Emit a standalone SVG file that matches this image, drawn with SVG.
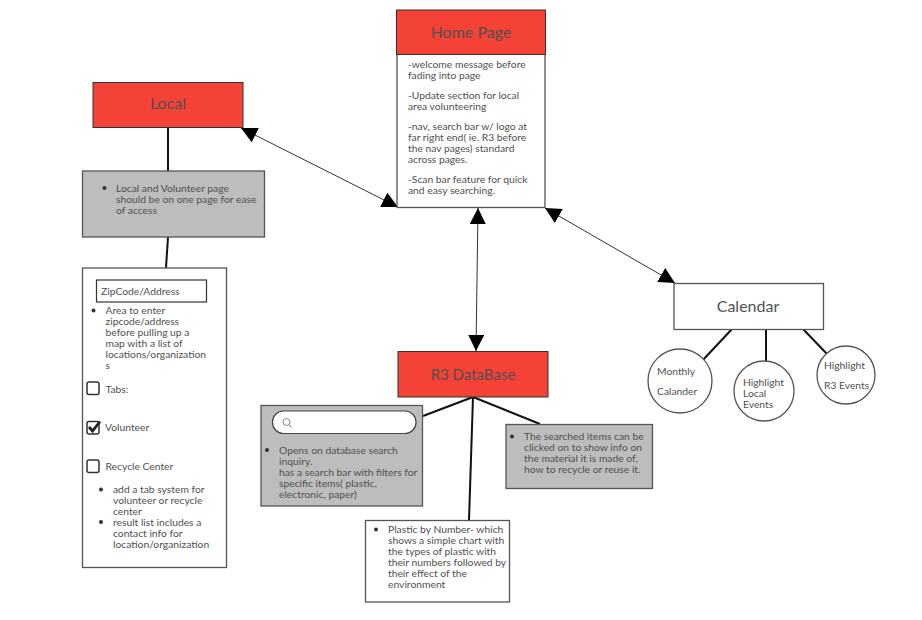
<svg xmlns="http://www.w3.org/2000/svg" width="922" height="620" viewBox="0 0 922 620">
<style>
text{font-family:Lato,"Open Sans",sans-serif;font-size:10.300px;fill:#505050}
.t{font-size:16px;text-anchor:middle}
.red{fill:#f44336;stroke:#333;stroke-width:1}
.wh{fill:#fff;stroke:#555;stroke-width:1.3}
.gr{fill:#bdbdbd;stroke:#555;stroke-width:1.3}
.c{fill:none;stroke:#111;stroke-width:2}
.a{fill:none;stroke:#333;stroke-width:1;marker-start:url(#ah);marker-end:url(#ah)}
.b{fill:#333;stroke:none}
.k{fill:#fff;stroke:#333;stroke-width:1.500}
</style>
<defs>
<marker id="ah" viewBox="0 0 16 16" refX="16" refY="8" markerWidth="16" markerHeight="16" markerUnits="userSpaceOnUse" orient="auto-start-reverse"><path d="M0 0L16 8L0 16Z" fill="#000"/></marker>
</defs>
<rect width="922" height="620" fill="#fff"/>
<g id="connectors">
<path class="a" d="M241 128L398 207"/>
<path class="a" d="M478 208L476 351"/>
<path class="a" d="M545 208L675 283"/>
<path class="c" d="M168 128V171"/>
<path class="c" d="M168 237L166 268"/>
<path class="c" d="M473 397L423 416"/>
<path class="c" d="M473 397L469 520"/>
<path class="c" d="M473 397L540 424"/>
<path class="c" d="M732 329L702 361"/>
<path class="c" d="M766 330V362"/>
<path class="c" d="M803 329L828 355"/>
</g>
<g id="home">
<rect class="wh" x="397" y="30" width="148" height="177.500"/>
<rect class="red" x="396.500" y="10" width="149" height="44.500"/>
<text class="t" x="471" y="38">Home Page</text>
<text x="408" y="68">-welcome message before</text>
<text x="408" y="79">fading into page</text>
<text x="408" y="99">-Update section for local</text>
<text x="408" y="110">area volunteering</text>
<text x="408" y="130">-nav, search bar w/ logo at</text>
<text x="408" y="141">far right end( ie. R3 before</text>
<text x="408" y="152">the nav pages) standard</text>
<text x="408" y="163">across pages.</text>
<text x="408" y="183">-Scan bar feature for quick</text>
<text x="408" y="194">and easy searching.</text>
</g>
<g id="local">
<rect class="red" x="93" y="82.500" width="150" height="45"/>
<text class="t" x="168" y="108.500">Local</text>
</g>
<g id="local-note">
<rect class="gr" x="82.500" y="171" width="182" height="66"/>
<circle class="b" cx="104.500" cy="188" r="2"/>
<text x="116" y="192">Local and Volunteer page</text>
<text x="116" y="203">should be on one page for ease</text>
<text x="116" y="214">of access</text>
</g>
<g id="local-panel">
<rect class="wh" x="82.500" y="268" width="144" height="299.500"/>
<rect x="96.500" y="280" width="110" height="22" fill="#fff" stroke="#333" stroke-width="1.2"/>
<text x="101" y="295">ZipCode/Address</text>
<circle class="b" cx="93.500" cy="310.500" r="2"/>
<text x="105.500" y="314">Area to enter</text>
<text x="105.500" y="325">zipcode/address</text>
<text x="105.500" y="336">before pulling up a</text>
<text x="105.500" y="347">map with a list of</text>
<text x="105.500" y="358">locations/organization</text>
<text x="105.500" y="369">s</text>
<rect class="k" x="87" y="382" width="12" height="12.500" rx="2"/>
<text x="105.500" y="393">Tabs:</text>
<rect class="k" x="87" y="421.500" width="12" height="12.500" rx="2"/>
<path d="M89 427L92.500 431L100 421.500" fill="none" stroke="#222" stroke-width="2.800"/>
<text x="105" y="431">Volunteer</text>
<rect class="k" x="87" y="460" width="12" height="12.500" rx="2"/>
<text x="105.500" y="470">Recycle Center</text>
<circle class="b" cx="101" cy="489.500" r="2"/>
<text x="113" y="493">add a tab system for</text>
<text x="113" y="504">volunteer or recycle</text>
<text x="113" y="515">center</text>
<circle class="b" cx="101" cy="522" r="2"/>
<text x="113" y="526">result list includes a</text>
<text x="113" y="537">contact info for</text>
<text x="113" y="548">location/organization</text>
</g>
<g id="database">
<rect class="red" x="398" y="351.500" width="150" height="45.500"/>
<text class="t" x="473" y="379.500" style="font-size:15px">R3 DataBase</text>
</g>
<g id="search-note">
<rect class="gr" x="261" y="405.500" width="161.500" height="100.500"/>
<rect x="272.500" y="411" width="143.500" height="22.500" rx="11" fill="#fff" stroke="#444" stroke-width="1.200"/>
<circle cx="286.500" cy="422" r="3.500" fill="none" stroke="#888"/>
<path d="M289 425L291.500 427.500" stroke="#777" fill="none"/>
<circle class="b" cx="267" cy="450" r="2"/>
<text x="279" y="454">Opens on database search</text>
<text x="279" y="465">inquiry.</text>
<text x="279" y="476">has a search bar with filters for</text>
<text x="279" y="487">specific items( plastic,</text>
<text x="279" y="498">electronic, paper)</text>
</g>
<g id="material-note">
<rect class="gr" x="506" y="424.500" width="146.500" height="64"/>
<circle class="b" cx="512" cy="436.500" r="2"/>
<text x="524" y="440">The searched items can be</text>
<text x="524" y="451">clicked on to show info on</text>
<text x="524" y="462">the material it is made of,</text>
<text x="524" y="473">how to recycle or reuse it.</text>
</g>
<g id="plastic-note">
<rect class="wh" x="365.500" y="520.500" width="144" height="81.500"/>
<circle class="b" cx="376" cy="529.500" r="2"/>
<text x="388" y="533">Plastic by Number- which</text>
<text x="388" y="544">shows a simple chart with</text>
<text x="388" y="555">the types of plastic with</text>
<text x="388" y="566">their numbers followed by</text>
<text x="388" y="577">their effect of the</text>
<text x="388" y="588">environment</text>
</g>
<g id="calendar">
<rect class="wh" x="674" y="283.500" width="149.500" height="46"/>
<text class="t" x="748" y="312">Calendar</text>
</g>
<g id="monthly">
<circle class="wh" cx="680" cy="381" r="32" stroke-width="1"/>
<text x="657" y="375">Monthly</text>
<text x="657" y="395">Calander</text>
</g>
<g id="local-events">
<circle class="wh" cx="764" cy="391" r="30" stroke-width="1"/>
<text x="743" y="386">Highlight</text>
<text x="743" y="397">Local</text>
<text x="743" y="408">Events</text>
</g>
<g id="r3-events">
<circle class="wh" cx="846" cy="375" r="29" stroke-width="1"/>
<text x="824" y="369">Highlight</text>
<text x="824" y="389">R3 Events</text>
</g>
</svg>
